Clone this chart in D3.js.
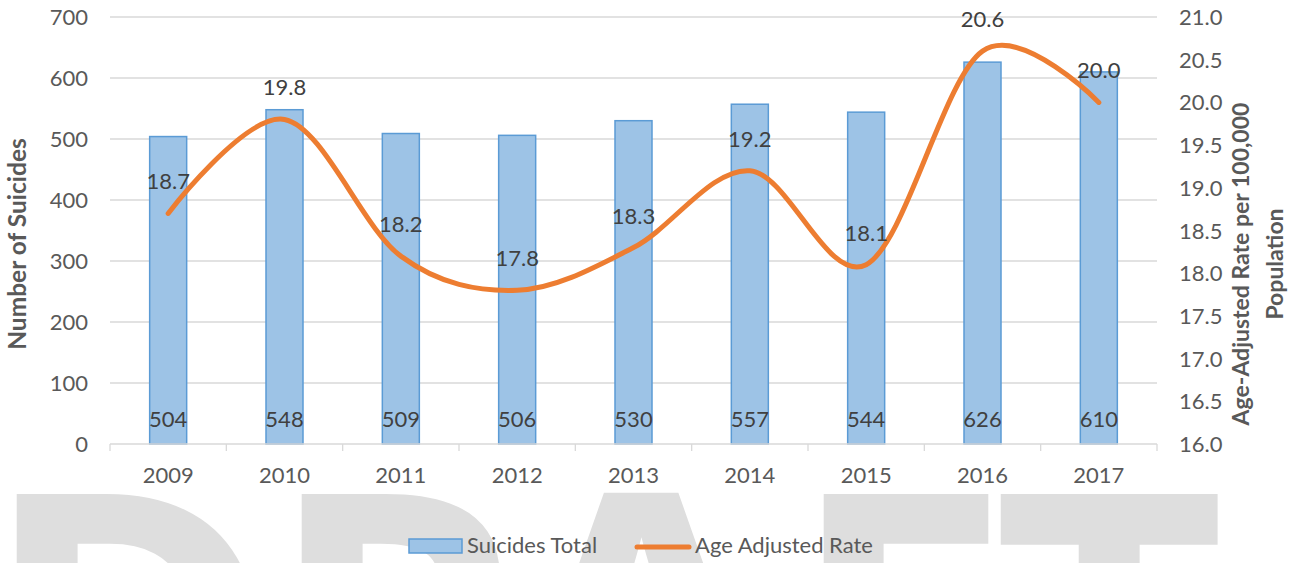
<!DOCTYPE html>
<html>
<head>
<meta charset="utf-8">
<script src="https://cdn.jsdelivr.net/npm/d3@7"></script>
<style>
  html, body { margin: 0; padding: 0; background: #fff; }
  svg { display: block; font-family: Lato, "Open Sans", sans-serif; }
</style>
</head>
<body>
<svg id="chart" width="1303" height="563"></svg>
<script>
// chart data
var years = ['2009', '2010', '2011', '2012', '2013', '2014', '2015', '2016', '2017'];
var suicidesTotal = [504, 548, 509, 506, 530, 557, 544, 626, 610];
var ageAdjustedRate = [18.7, 19.8, 18.2, 17.8, 18.3, 19.2, 18.1, 20.6, 20.0];
var leftTicks = [0, 100, 200, 300, 400, 500, 600, 700];
var rightTicks = [16.0, 16.5, 17.0, 17.5, 18.0, 18.5, 19.0, 19.5, 20.0, 20.5, 21.0];
var watermark = ['D', 'R', 'A', 'F', 'T'];

var svg = d3.select('#chart');
var margin = { left: 110, right: 1157, top: 17, bottom: 444 };

var x = d3.scaleBand().domain(years).range([margin.left, margin.right]);
var yLeft = d3.scaleLinear().domain([0, 700]).range([margin.bottom, margin.top]);
var yRight = d3.scaleLinear().domain([16, 21]).range([margin.bottom, margin.top]);

// big DRAFT watermark behind everything (cut off by the bottom edge)
// measure the glyph ink with a canvas so the letters line up with the reference
var wmFont = '"Open Sans", sans-serif';
var ctx = document.createElement('canvas').getContext('2d');
ctx.font = 'bold 400px ' + wmFont;
var tBox = ctx.measureText('T');
var wmSize = 400 * 220 / (tBox.actualBoundingBoxLeft + tBox.actualBoundingBoxRight);
ctx.font = 'bold ' + wmSize + 'px ' + wmFont;
var wmLeft = [12, 297, null, 819, 999];
var wmCenter = [null, null, 644, null, null];
var wmTop = 492;
svg.append('g').selectAll('text')
    .data(watermark)
    .enter().append('text')
    .each(function (d, i) {
        var m = ctx.measureText(d);
        var inkW = m.actualBoundingBoxLeft + m.actualBoundingBoxRight;
        var left = wmLeft[i] !== null ? wmLeft[i] : wmCenter[i] - inkW / 2;
        d3.select(this)
            .attr('x', left + m.actualBoundingBoxLeft)
            .attr('y', wmTop + m.actualBoundingBoxAscent);
    })
    .style('font-family', wmFont)
    .style('font-weight', 'bold')
    .style('font-size', wmSize + 'px')
    .style('fill', '#dedede')
    .text(function (d) { return d; });

// gridlines
svg.append('g').selectAll('line')
    .data(leftTicks.filter(function (d) { return d > 0; }))
    .enter().append('line')
    .attr('x1', margin.left).attr('x2', margin.right)
    .attr('y1', function (d) { return yLeft(d); })
    .attr('y2', function (d) { return yLeft(d); })
    .style('stroke', '#d9d9d9').style('stroke-width', 1.3);

// bars
var barW = 37;
svg.append('g').selectAll('rect')
    .data(suicidesTotal)
    .enter().append('rect')
    .attr('x', function (d, i) { return x(years[i]) + x.bandwidth() / 2 - barW / 2; })
    .attr('y', function (d) { return yLeft(d); })
    .attr('width', barW)
    .attr('height', function (d) { return yLeft(0) - yLeft(d); })
    .style('fill', '#9dc3e6')
    .style('stroke', '#5b9bd5')
    .style('stroke-width', 1.5);

// x axis line + ticks
var xAxis = svg.append('g');
xAxis.append('line')
    .attr('x1', margin.left).attr('x2', margin.right)
    .attr('y1', margin.bottom).attr('y2', margin.bottom)
    .style('stroke', '#d9d9d9').style('stroke-width', 1.3);
xAxis.selectAll('line.tick')
    .data(years.concat(['end']))
    .enter().append('line')
    .attr('class', 'tick')
    .attr('x1', function (d, i) { return margin.left + i * x.step(); })
    .attr('x2', function (d, i) { return margin.left + i * x.step(); })
    .attr('y1', margin.bottom).attr('y2', margin.bottom + 7)
    .style('stroke', '#d9d9d9').style('stroke-width', 1.3);
xAxis.selectAll('text')
    .data(years)
    .enter().append('text')
    .attr('x', function (d) { return x(d) + x.bandwidth() / 2; })
    .attr('y', 483)
    .attr('text-anchor', 'middle')
    .style('font-size', '22px')
    .style('fill', '#595959')
    .text(function (d) { return d; });

// left axis labels
svg.append('g').selectAll('text')
    .data(leftTicks)
    .enter().append('text')
    .attr('x', 88)
    .attr('y', function (d) { return yLeft(d) + 8; })
    .attr('text-anchor', 'end')
    .style('font-size', '22px')
    .style('fill', '#595959')
    .text(function (d) { return d; });

// right axis labels
svg.append('g').selectAll('text')
    .data(rightTicks)
    .enter().append('text')
    .attr('x', 1179)
    .attr('y', function (d) { return yRight(d) + 8; })
    .style('font-size', '22px')
    .style('fill', '#595959')
    .text(function (d) { return d3.format('.1f')(d); });

// axis titles
svg.append('text')
    .attr('transform', 'translate(26,244) rotate(-90)')
    .attr('text-anchor', 'middle')
    .style('font-size', '24.5px').style('font-weight', 'bold')
    .style('fill', '#595959')
    .text('Number of Suicides');
var rTitle = svg.append('text')
    .attr('transform', 'translate(1241,264) rotate(-90)')
    .attr('text-anchor', 'middle')
    .style('font-size', '23px').style('font-weight', 'bold')
    .style('fill', '#595959');
rTitle.append('tspan').attr('x', 0).attr('dy', 8).text('Age-Adjusted Rate per 100,000');
rTitle.append('tspan').attr('x', 0).attr('dy', 34).text('Population');

// bar value labels
svg.append('g').selectAll('text')
    .data(suicidesTotal)
    .enter().append('text')
    .attr('x', function (d, i) { return x(years[i]) + x.bandwidth() / 2; })
    .attr('y', 427)
    .attr('text-anchor', 'middle')
    .style('font-size', '22px')
    .style('fill', '#404040')
    .text(function (d) { return d; });

// smoothed rate line
var line = d3.line()
    .x(function (d, i) { return x(years[i]) + x.bandwidth() / 2; })
    .y(function (d) { return yRight(d); })
    .curve(d3.curveCardinal.tension(0));
svg.append('path')
    .datum(ageAdjustedRate)
    .attr('d', line)
    .style('fill', 'none')
    .style('stroke', '#ed7d31')
    .style('stroke-width', 5)
    .style('stroke-linecap', 'round');

// rate labels
svg.append('g').selectAll('text')
    .data(ageAdjustedRate)
    .enter().append('text')
    .attr('x', function (d, i) { return x(years[i]) + x.bandwidth() / 2; })
    .attr('y', function (d) { return yRight(d) - 24; })
    .attr('text-anchor', 'middle')
    .style('font-size', '22px')
    .style('fill', '#404040')
    .text(function (d) { return d3.format('.1f')(d); });

// legend
var legend = svg.append('g');
legend.append('rect')
    .attr('x', 409).attr('y', 539).attr('width', 53).attr('height', 14)
    .style('fill', '#9dc3e6').style('stroke', '#5b9bd5').style('stroke-width', 1.5);
legend.append('text')
    .attr('x', 467).attr('y', 553)
    .style('font-size', '22px').style('fill', '#595959')
    .text('Suicides Total');
legend.append('line')
    .attr('x1', 637).attr('x2', 689).attr('y1', 547).attr('y2', 547)
    .style('stroke', '#ed7d31').style('stroke-width', 5).style('stroke-linecap', 'round');
legend.append('text')
    .attr('x', 695).attr('y', 553)
    .style('font-size', '22px').style('fill', '#595959')
    .text('Age Adjusted Rate');
</script>
</body>
</html>
